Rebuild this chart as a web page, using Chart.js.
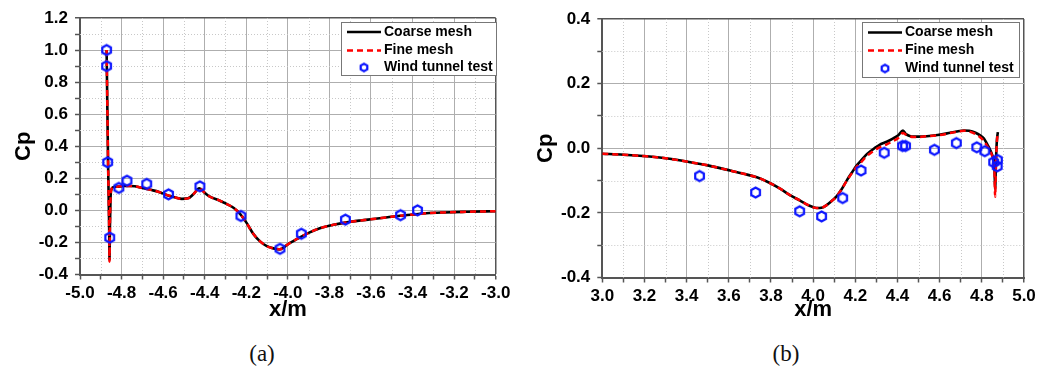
<!DOCTYPE html>
<html>
<head>
<meta charset="utf-8">
<title>Cp distribution</title>
<script src="https://cdn.jsdelivr.net/npm/chart.js@4.4.1/dist/chart.umd.min.js"></script>
<style>
    html, body { margin: 0; padding: 0; background: #fff; }
    #wrap { position: relative; width: 1051px; height: 371px; overflow: hidden; }
    .panel { position: absolute; top: 0; }
    .caption {
        position: absolute; top: 342px; line-height: 24px;
        font-family: "Liberation Serif", "Times New Roman", serif;
        font-size: 23px; color: #111; transform: translateX(-50%);
    }
</style>
</head>
<body>
<div id="wrap">
    <canvas class="panel" id="chart-a" width="520" height="330" style="left:0"></canvas>
    <canvas class="panel" id="chart-b" width="531" height="330" style="left:520px"></canvas>
    <div class="caption" style="left:262px">(a)</div>
    <div class="caption" style="left:786px">(b)</div>
</div>
<script>
(function () {
    'use strict';

    // Legend entries (order as shown in the legend box).
    var seriesLabels = ['Coarse mesh', 'Fine mesh', 'Wind tunnel test'];

    // Axis ranges.
    var leftXRange = [-5.0, -3.0];
    var leftYRange = [-0.4, 1.2];
    var rightXRange = [3.0, 5.0];
    var rightYRange = [-0.4, 0.4];

    // Panel (a): CFD curves.
    var leftCurveX = [-4.872, -4.871, -4.868, -4.865, -4.861, -4.859, -4.858, -4.856, -4.853, -4.849,
        -4.840, -4.820, -4.790, -4.760, -4.736, -4.700, -4.660, -4.620, -4.580, -4.540,
        -4.510, -4.480, -4.455, -4.426, -4.400, -4.375, -4.335, -4.295, -4.260, -4.231,
        -4.200, -4.167, -4.135, -4.103, -4.070, -4.040, -4.000, -3.942, -3.900, -3.846,
        -3.780, -3.718, -3.650, -3.590, -3.520, -3.462, -3.400, -3.333, -3.250, -3.140, -3.000];
    var leftCoarseY = [1.00, 0.90, 0.60, 0.30, 0.00, -0.17, -0.31, -0.10, 0.08, 0.13,
        0.145, 0.148, 0.152, 0.152, 0.150, 0.140, 0.128, 0.115, 0.095, 0.080,
        0.072, 0.075, 0.100, 0.138, 0.110, 0.085, 0.065, 0.040, 0.015, -0.020,
        -0.075, -0.145, -0.192, -0.222, -0.237, -0.243, -0.212, -0.168, -0.140, -0.112,
        -0.090, -0.075, -0.063, -0.054, -0.043, -0.034, -0.026, -0.018, -0.013, -0.009, -0.005];
    var leftFineY = [1.00, 0.90, 0.60, 0.30, 0.00, -0.17, -0.32, -0.10, 0.08, 0.13,
        0.145, 0.148, 0.152, 0.152, 0.150, 0.140, 0.128, 0.115, 0.095, 0.080,
        0.072, 0.075, 0.100, 0.136, 0.110, 0.085, 0.065, 0.040, 0.015, -0.020,
        -0.075, -0.145, -0.192, -0.222, -0.237, -0.243, -0.212, -0.168, -0.140, -0.112,
        -0.090, -0.075, -0.063, -0.054, -0.043, -0.034, -0.026, -0.018, -0.013, -0.009, -0.005];

    // Panel (a): wind tunnel points.
    var leftTestX = [-4.872, -4.872, -4.867, -4.857, -4.813, -4.774, -4.679, -4.574, -4.423,
        -4.226, -4.038, -3.935, -3.723, -3.458, -3.376];
    var leftTestY = [1.00, 0.90, 0.30, -0.17, 0.14, 0.185, 0.165, 0.10, 0.15,
        -0.035, -0.24, -0.146, -0.058, -0.03, 0.00];

    // Panel (b): CFD curves.
    var rightCurveX = [3.000, 3.100, 3.210, 3.300, 3.416, 3.500, 3.606, 3.670, 3.733, 3.790,
        3.843, 3.890, 3.938, 3.980, 4.017, 4.040, 4.064, 4.090, 4.110, 4.135,
        4.159, 4.185, 4.207, 4.225, 4.249, 4.270, 4.313, 4.349, 4.378, 4.404,
        4.426, 4.440, 4.458, 4.475, 4.500, 4.539, 4.590, 4.635, 4.680, 4.715,
        4.740, 4.770, 4.792, 4.810, 4.824, 4.836, 4.847, 4.855, 4.860, 4.863,
        4.867, 4.871, 4.876];
    var rightCoarseY = [-0.017, -0.020, -0.025, -0.031, -0.043, -0.053, -0.069, -0.079, -0.090, -0.106,
        -0.125, -0.145, -0.162, -0.177, -0.185, -0.184, -0.176, -0.162, -0.150, -0.127,
        -0.100, -0.074, -0.053, -0.040, -0.022, -0.010, 0.010, 0.020, 0.030, 0.040,
        0.055, 0.044, 0.038, 0.036, 0.036, 0.037, 0.041, 0.046, 0.052, 0.055,
        0.054, 0.048, 0.040, 0.030, 0.014, 0.000, -0.017, -0.035, -0.060, -0.127,
        -0.040, 0.020, 0.050];
    var rightFineY = [-0.017, -0.020, -0.025, -0.031, -0.043, -0.053, -0.069, -0.079, -0.090, -0.106,
        -0.125, -0.145, -0.162, -0.177, -0.185, -0.184, -0.176, -0.162, -0.150, -0.127,
        -0.101, -0.076, -0.057, -0.045, -0.028, -0.016, 0.002, 0.012, 0.022, 0.032,
        0.047, 0.042, 0.037, 0.035, 0.035, 0.037, 0.040, 0.045, 0.051, 0.054,
        0.052, 0.044, 0.034, 0.022, 0.008, -0.005, -0.020, -0.040, -0.070, -0.150,
        -0.050, 0.015, 0.050];

    // Panel (b): wind tunnel points.
    var rightTestX = [3.461, 3.727, 3.936, 4.040, 4.140, 4.227, 4.337, 4.424, 4.438,
        4.575, 4.679, 4.776, 4.814, 4.856, 4.874, 4.873];
    var rightTestY = [-0.086, -0.137, -0.195, -0.211, -0.154, -0.069, -0.014, 0.007, 0.007,
        -0.005, 0.016, 0.003, -0.009, -0.043, -0.036, -0.056];

    var FONT = '"Liberation Sans", Arial, Helvetica, sans-serif';

    /**
     * Blue hexagon outline used as the point style.
     */
    function makeHexagon(r, lw) {
        var size = Math.ceil(2 * r + lw + 2);
        var c = document.createElement('canvas');
        c.width = size;
        c.height = size;
        var g = c.getContext('2d');
        g.strokeStyle = '#0a14ff';
        g.lineWidth = lw;
        g.beginPath();
        for (var i = 0; i < 6; i++) {
            var a = Math.PI / 6 + i * Math.PI / 3;
            var px = size / 2 + r * Math.cos(a);
            var py = size / 2 + r * Math.sin(a);
            if (i === 0) { g.moveTo(px, py); } else { g.lineTo(px, py); }
        }
        g.closePath();
        g.stroke();
        return c;
    }

    var hexMarker = makeHexagon(5, 2.2);
    var legendHex = makeHexagon(3.8, 2.2);

    function toPoints(xs, ys) {
        return xs.map(function (x, i) { return { x: x, y: ys[i] }; });
    }

    function isMajor(v) {
        return Math.round(v * 10) % 2 === 0;
    }

    /**
     * Scale with major (0.2) grid lines; minor ticks every 0.1.
     */
    function buildScale(range, title, fixedSize, tickPad, titlePad) {
        var max = range[1];
        return {
            type: 'linear',
            min: range[0],
            max: range[1],
            afterFit: function (scale) {
                if (scale.isHorizontal()) {
                    scale.height = fixedSize;
                } else {
                    scale.width = fixedSize;
                }
            },
            ticks: {
                stepSize: 0.1,
                maxTicksLimit: 40,
                autoSkip: false,
                maxRotation: 0,
                padding: tickPad,
                color: '#000',
                font: { family: FONT, size: 17, weight: 'bold' },
                callback: function (value) {
                    var tenths = Math.round(value * 10);
                    return tenths % 2 === 0 ? (tenths / 10).toFixed(1) : '';
                }
            },
            grid: {
                color: function (c) {
                    var v = c.tick.value;
                    if (Math.abs(v - max) < 1e-6) { return '#555555'; }
                    return isMajor(v) ? '#aeaeae' : 'rgba(0,0,0,0)';
                },
                lineWidth: function (c) {
                    return Math.abs(c.tick.value - max) < 1e-6 ? 1.5 : 1;
                },
                tickColor: '#555555',
                tickLength: 5,
                tickWidth: 1.5
            },
            border: {
                color: '#555555',
                width: 2
            },
            title: {
                display: true,
                text: title,
                color: '#000',
                font: { family: FONT, size: 22, weight: 'bold' },
                padding: titlePad
            }
        };
    }

    /**
     * Dotted grid lines at the minor (0.1) ticks.
     */
    var minorGrid = {
        id: 'minorGrid',
        beforeDatasetsDraw: function (chart) {
            var area = chart.chartArea;
            var ctx = chart.ctx;
            ctx.save();
            ctx.strokeStyle = '#c8c8c8';
            ctx.lineWidth = 1;
            ctx.setLineDash([1, 2]);
            ['x', 'y'].forEach(function (id) {
                var scale = chart.scales[id];
                scale.ticks.forEach(function (t) {
                    if (isMajor(t.value)) {
                        return;
                    }
                    var p = Math.round(scale.getPixelForValue(t.value)) + 0.5;
                    ctx.beginPath();
                    if (id === 'x') {
                        ctx.moveTo(p, area.top);
                        ctx.lineTo(p, area.bottom);
                    } else {
                        ctx.moveTo(area.left, p);
                        ctx.lineTo(area.right, p);
                    }
                    ctx.stroke();
                });
            });
            ctx.restore();
        }
    };

    /**
     * Legend box drawn inside the plot area.
     */
    var boxLegend = {
        id: 'boxLegend',
        afterDraw: function (chart, args, opts) {
            var ctx = chart.ctx;
            var byLabel = {};
            chart.data.datasets.forEach(function (ds) { byLabel[ds.label] = ds; });

            ctx.save();
            ctx.fillStyle = '#fff';
            ctx.fillRect(opts.left, opts.top, opts.width, opts.height);
            ctx.strokeStyle = '#777';
            ctx.lineWidth = 1;
            ctx.strokeRect(opts.left + 0.5, opts.top + 0.5, opts.width, opts.height);

            seriesLabels.forEach(function (label, i) {
                var ds = byLabel[label];
                var y = opts.top + opts.rows[i];
                if (ds.showLine) {
                    ctx.strokeStyle = ds.borderColor;
                    ctx.lineWidth = ds.borderWidth;
                    ctx.setLineDash(ds.borderDash || []);
                    ctx.beginPath();
                    ctx.moveTo(opts.left + 6, y);
                    ctx.lineTo(opts.left + 40, y);
                    ctx.stroke();
                    ctx.setLineDash([]);
                } else {
                    ctx.drawImage(legendHex, opts.left + 23 - legendHex.width / 2, y - legendHex.height / 2);
                }
                ctx.fillStyle = '#000';
                ctx.font = 'bold 14px ' + FONT;
                ctx.textBaseline = 'middle';
                ctx.textAlign = 'left';
                ctx.fillText(label, opts.left + 43, y);
            });
            ctx.restore();
        }
    };

    function initPanel(canvasId, cfg) {
        var ctx = document.getElementById(canvasId).getContext('2d');
        new Chart(ctx, {
            type: 'scatter',
            data: {
                datasets: [{
                    label: seriesLabels[2],
                    data: toPoints(cfg.testX, cfg.testY),
                    showLine: false,
                    pointStyle: hexMarker,
                    pointRadius: 5
                }, {
                    label: seriesLabels[1],
                    data: toPoints(cfg.curveX, cfg.fineY),
                    showLine: true,
                    borderColor: '#ff0000',
                    borderWidth: 2.5,
                    borderDash: [6, 4],
                    pointRadius: 0,
                    cubicInterpolationMode: 'monotone'
                }, {
                    label: seriesLabels[0],
                    data: toPoints(cfg.curveX, cfg.coarseY),
                    showLine: true,
                    borderColor: '#000000',
                    borderWidth: 2.6,
                    pointRadius: 0,
                    cubicInterpolationMode: 'monotone'
                }]
            },
            options: {
                responsive: false,
                animation: false,
                layout: { padding: cfg.padding },
                plugins: {
                    legend: { display: false },
                    tooltip: { enabled: false },
                    boxLegend: cfg.legend
                },
                scales: {
                    x: buildScale(cfg.xRange, 'x/m', cfg.xHeight, 4, { top: 0, bottom: 7 }),
                    y: buildScale(cfg.yRange, 'Cp', cfg.yWidth, 7, { top: cfg.cpPad, bottom: 0 })
                }
            },
            plugins: [minorGrid, boxLegend]
        });
    }

    initPanel('chart-a', {
        curveX: leftCurveX, coarseY: leftCoarseY, fineY: leftFineY,
        testX: leftTestX, testY: leftTestY,
        xRange: leftXRange, yRange: leftYRange,
        padding: { left: 0, top: 18, right: 24.3, bottom: 0 },
        xHeight: 55.5, yWidth: 80, cpPad: 11,
        legend: { left: 341, top: 22, width: 155, height: 53, rows: [10, 28.5, 45.5] }
    });

    initPanel('chart-b', {
        curveX: rightCurveX, coarseY: rightCoarseY, fineY: rightFineY,
        testX: rightTestX, testY: rightTestY,
        xRange: rightXRange, yRange: rightYRange,
        padding: { left: 0, top: 19, right: 27, bottom: 0 },
        xHeight: 52.5, yWidth: 82.3, cpPad: 13,
        legend: { left: 342, top: 22, width: 157, height: 55, rows: [10.5, 28.5, 46.5] }
    });
})();
</script>
</body>
</html>
